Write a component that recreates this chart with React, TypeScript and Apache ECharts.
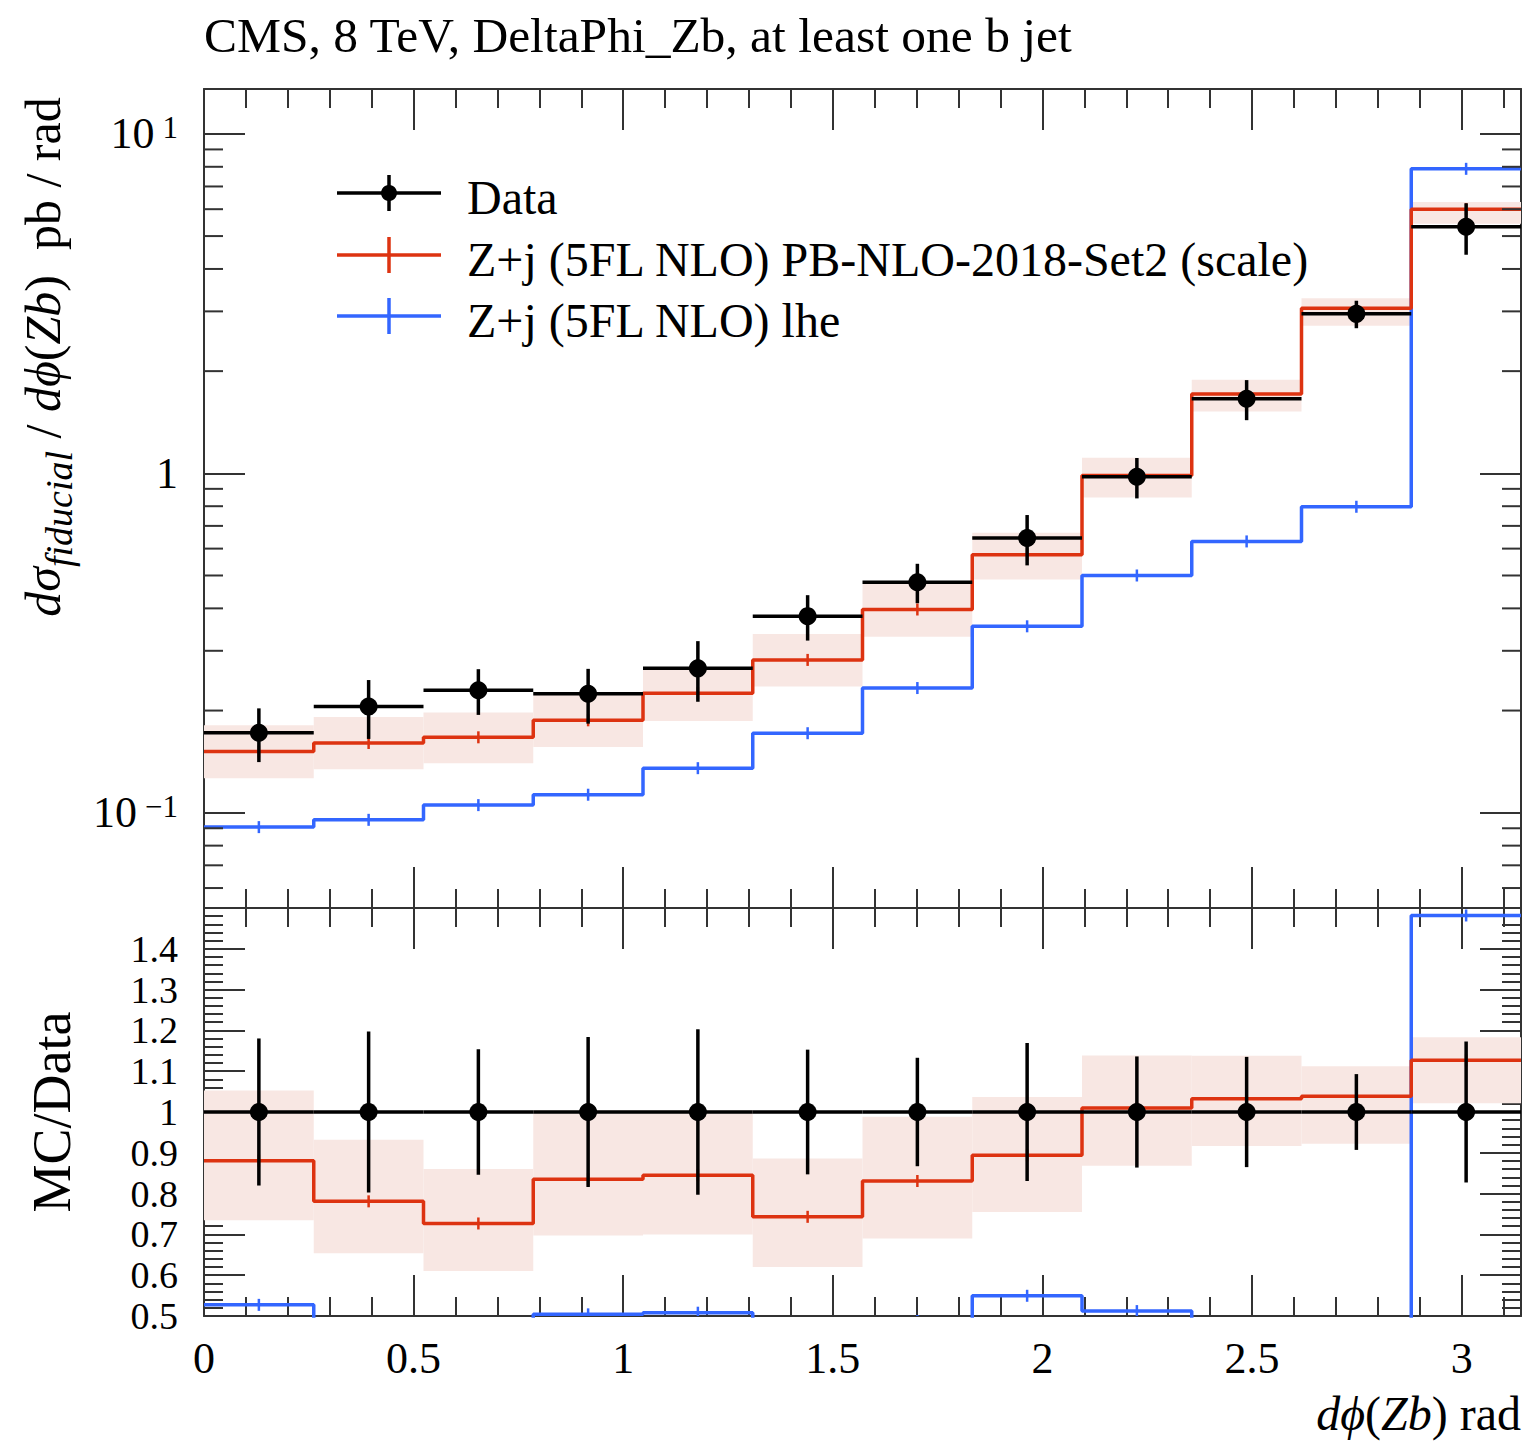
import React, { useEffect, useRef } from 'react';
import * as echarts from 'echarts';

// ---------------- data ----------------
const binEdges = [0, 0.2618, 0.5236, 0.7854, 1.0472, 1.309, 1.5708, 1.8326, 2.0944, 2.3562, 2.618, 2.8798, 3.1416];
const xMax = 3.1416;

const dataValues = [0.172, 0.2055, 0.2295, 0.2242, 0.2663, 0.3795, 0.4778, 0.6445, 0.9765, 1.658, 2.95, 5.325];
const dataErrors = [0.031, 0.0405, 0.0353, 0.0412, 0.054, 0.058, 0.0635, 0.109, 0.133, 0.224, 0.274, 0.92];

const mcValues = [0.1515, 0.1605, 0.1668, 0.1872, 0.225, 0.282, 0.397, 0.576, 0.986, 1.712, 3.063, 6.0];
const mcLow = [0.1264, 0.1344, 0.14, 0.1563, 0.1864, 0.2353, 0.3297, 0.4866, 0.848, 1.52, 2.72, 5.44];
const mcHigh = [0.1811, 0.1915, 0.1974, 0.2251, 0.2674, 0.3362, 0.4721, 0.6683, 1.112, 1.887, 3.28, 6.3];

const lheValues = [0.0907, 0.0953, 0.1053, 0.113, 0.1353, 0.1715, 0.233, 0.3542, 0.5, 0.63, 0.797, 7.89];

const topYMin = 0.0524;
const topYMax = 13.56;
const logMinorTicks = [0.06, 0.07, 0.08, 0.09, 0.2, 0.3, 0.4, 0.5, 0.6, 0.7, 0.8, 0.9, 2, 3, 4, 5, 6, 7, 8, 9];
const ratioMin = 0.5;
const ratioMax = 1.5;

const titleText = 'CMS, 8 TeV, DeltaPhi_Zb, at least one b jet';
const legendLabels = ['Data', 'Z+j (5FL NLO) PB-NLO-2018-Set2 (scale)', 'Z+j (5FL NLO) lhe'];

// ---------------- styles ----------------
const FONT = '"Liberation Serif", "DejaVu Serif", serif';
const RED = '#dd3311';
const BLUE = '#3366ff';
const BAND = '#f8e7e3';
const FRAME = '#333333';

const binLo = binEdges.slice(0, -1);
const binHi = binEdges.slice(1);

function stepPoints(values: number[]) {
  const pts: number[][] = [];
  values.forEach((v, i) => {
    pts.push([binLo[i], v]);
    pts.push([binHi[i], v]);
  });
  return pts;
}

const axisLine = { show: true, onZero: false, lineStyle: { color: FRAME, width: 2 } };
const majorTick = { show: true, inside: true, length: 41, lineStyle: { color: FRAME, width: 2 } };
const minorTick = { show: true, splitNumber: 5, length: 19, lineStyle: { color: FRAME, width: 2 } };

function xAxisDef(grid: number, position: string, labels: boolean) {
  return {
    gridIndex: grid,
    type: 'value',
    min: 0,
    max: xMax,
    interval: 0.5,
    position,
    axisLine,
    axisTick: majorTick,
    minorTick,
    splitLine: { show: false },
    minorSplitLine: { show: false },
    axisLabel: labels
      ? { show: true, fontSize: 44, fontFamily: FONT, color: '#000', margin: 20, showMinLabel: true, showMaxLabel: false }
      : { show: false },
  };
}

function renderBand(lo: number[], hi: number[], xi: number, yi: number) {
  return {
    type: 'custom',
    xAxisIndex: xi,
    yAxisIndex: yi,
    clip: true,
    silent: true,
    z: 1,
    data: lo.map((l, i) => [binLo[i], binHi[i], l, hi[i]]),
    renderItem: (params: any, api: any) => {
      const p1 = api.coord([api.value(0), api.value(3)]);
      const p2 = api.coord([api.value(1), api.value(2)]);
      return {
        type: 'rect',
        shape: { x: p1[0], y: p1[1], width: p2[0] - p1[0], height: p2[1] - p1[1] },
        style: { fill: BAND },
      };
    },
  };
}

function renderCenterTicks(values: number[], color: string, xi: number, yi: number) {
  return {
    type: 'custom',
    xAxisIndex: xi,
    yAxisIndex: yi,
    clip: true,
    silent: true,
    z: 3,
    data: values.map((v, i) => [(binLo[i] + binHi[i]) / 2, v]),
    renderItem: (params: any, api: any) => {
      const p = api.coord([api.value(0), api.value(1)]);
      return {
        type: 'line',
        shape: { x1: p[0], y1: p[1] - 6, x2: p[0], y2: p[1] + 6 },
        style: { stroke: color, lineWidth: 2.5 },
      };
    },
  };
}

function renderData(values: number[], errs: number[], xi: number, yi: number) {
  return {
    type: 'custom',
    xAxisIndex: xi,
    yAxisIndex: yi,
    clip: true,
    silent: true,
    z: 5,
    data: values.map((v, i) => [binLo[i], binHi[i], v, errs[i]]),
    renderItem: (params: any, api: any) => {
      const lo = api.value(0);
      const hi = api.value(1);
      const v = api.value(2);
      const e = api.value(3);
      const c = (lo + hi) / 2;
      const pL = api.coord([lo, v]);
      const pR = api.coord([hi, v]);
      const pC = api.coord([c, v]);
      const pU = api.coord([c, v + e]);
      const pD = api.coord([c, v - e]);
      return {
        type: 'group',
        children: [
          { type: 'line', shape: { x1: pL[0], y1: pL[1], x2: pR[0], y2: pR[1] }, style: { stroke: '#000', lineWidth: 3.5 } },
          { type: 'line', shape: { x1: pU[0], y1: pU[1], x2: pD[0], y2: pD[1] }, style: { stroke: '#000', lineWidth: 3.5 } },
          { type: 'circle', shape: { cx: pC[0], cy: pC[1], r: 9 }, style: { fill: '#000' } },
        ],
      };
    },
  };
}

function stepLine(values: number[], color: string, xi: number, yi: number, z: number) {
  return {
    type: 'line',
    xAxisIndex: xi,
    yAxisIndex: yi,
    data: stepPoints(values),
    showSymbol: false,
    symbol: 'none',
    clip: true,
    silent: true,
    z,
    lineStyle: { color, width: 3.5 },
  };
}

function logLabel(v: number) {
  const l = Math.log10(v);
  const r = Math.round(l);
  if (Math.abs(l - r) > 1e-6) return '';
  if (r === 0) return '{m|1}';
  return `{m|10}{s|${r < 0 ? '\u2212' : ''}${Math.abs(r)}}`;
}

const ratioData = dataValues.map(() => 1);
const ratioErr = dataErrors.map((e, i) => e / dataValues[i]);
const ratioMc = mcValues.map((v, i) => v / dataValues[i]);
const ratioMcLow = mcLow.map((v, i) => v / dataValues[i]);
const ratioMcHigh = mcHigh.map((v, i) => v / dataValues[i]);
const ratioLhe = lheValues.map((v, i) => v / dataValues[i]);

const legendRows = [
  { y: 193, color: '#000', dot: true },
  { y: 255, color: RED, dot: false },
  { y: 316, color: BLUE, dot: false },
];

function buildLegend() {
  const els: any[] = [];
  legendRows.forEach((row, i) => {
    els.push({ type: 'line', shape: { x1: 337, y1: row.y, x2: 441, y2: row.y }, style: { stroke: row.color, lineWidth: 3.5 }, z: 10 });
    els.push({ type: 'line', shape: { x1: 389, y1: row.y - 18, x2: 389, y2: row.y + 18 }, style: { stroke: row.color, lineWidth: 3.5 }, z: 10 });
    if (row.dot) els.push({ type: 'circle', shape: { cx: 389, cy: row.y, r: 8 }, style: { fill: '#000' }, z: 10 });
    els.push({
      type: 'text',
      x: 467,
      y: row.y + 4,
      z: 10,
      style: { text: legendLabels[i], fontFamily: FONT, fontSize: 48, fill: '#000', align: 'left', verticalAlign: 'middle' },
    });
  });
  return els;
}

const option: any = {
  animation: false,
  backgroundColor: '#fff',
  grid: [
    { left: 204, top: 89, width: 1317, height: 819 },
    { left: 204, top: 908, width: 1317, height: 408 },
  ],
  xAxis: [
    xAxisDef(0, 'bottom', false),
    xAxisDef(0, 'top', false),
    xAxisDef(1, 'bottom', true),
    xAxisDef(1, 'top', false),
  ],
  yAxis: [
    {
      gridIndex: 0,
      type: 'log',
      min: topYMin,
      max: topYMax,
      position: 'left',
      axisLine,
      axisTick: majorTick,
      minorTick: { show: false },
      splitLine: { show: false },
      axisLabel: {
        show: true,
        margin: 26,
        showMinLabel: false,
        showMaxLabel: false,
        formatter: logLabel,
        rich: {
          m: { fontSize: 44, fontFamily: FONT, color: '#000', lineHeight: 44, padding: [8, 0, 0, 0], verticalAlign: 'bottom' },
          s: { fontSize: 31, fontFamily: FONT, color: '#000', lineHeight: 30, verticalAlign: 'top', padding: [0, 0, 0, 8] },
        },
      },
    },
    {
      gridIndex: 0,
      type: 'log',
      min: topYMin,
      max: topYMax,
      position: 'right',
      axisLine,
      axisTick: majorTick,
      minorTick: { show: false },
      splitLine: { show: false },
      axisLabel: { show: false },
    },
    {
      gridIndex: 1,
      type: 'value',
      min: ratioMin,
      max: ratioMax,
      interval: 0.1,
      position: 'left',
      axisLine,
      axisTick: majorTick,
      minorTick,
      splitLine: { show: false },
      minorSplitLine: { show: false },
      axisLabel: {
        show: true,
        margin: 26,
        fontSize: 38,
        lineHeight: 38,
        fontFamily: FONT,
        color: '#000',
        showMinLabel: true,
        showMaxLabel: false,
        formatter: (v: number) => String(+v.toFixed(1)),
      },
    },
    {
      gridIndex: 1,
      type: 'value',
      min: ratioMin,
      max: ratioMax,
      interval: 0.1,
      position: 'right',
      axisLine,
      axisTick: majorTick,
      minorTick,
      splitLine: { show: false },
      minorSplitLine: { show: false },
      axisLabel: { show: false },
    },
  ],
  series: [
    // log minor ticks on top panel
    {
      type: 'custom',
      xAxisIndex: 0,
      yAxisIndex: 0,
      silent: true,
      z: 6,
      data: logMinorTicks.map((v) => [0, v]),
      renderItem: (params: any, api: any) => {
        const v = api.value(1);
        const pL = api.coord([0, v]);
        const pR = api.coord([xMax, v]);
        return {
          type: 'group',
          children: [
            { type: 'line', shape: { x1: pL[0], y1: pL[1], x2: pL[0] + 19, y2: pL[1] }, style: { stroke: FRAME, lineWidth: 2 } },
            { type: 'line', shape: { x1: pR[0] - 19, y1: pR[1], x2: pR[0], y2: pR[1] }, style: { stroke: FRAME, lineWidth: 2 } },
          ],
        };
      },
    },
    // top panel
    renderBand(mcLow, mcHigh, 0, 0),
    stepLine(lheValues, BLUE, 0, 0, 2),
    renderCenterTicks(lheValues, BLUE, 0, 0),
    stepLine(mcValues, RED, 0, 0, 3),
    renderCenterTicks(mcValues, RED, 0, 0),
    renderData(dataValues, dataErrors, 0, 0),
    // ratio panel
    renderBand(ratioMcLow, ratioMcHigh, 2, 2),
    stepLine(ratioLhe, BLUE, 2, 2, 2),
    renderCenterTicks(ratioLhe, BLUE, 2, 2),
    stepLine(ratioMc, RED, 2, 2, 3),
    renderCenterTicks(ratioMc, RED, 2, 2),
    renderData(ratioData, ratioErr, 2, 2),
  ],
  graphic: [
    {
      type: 'text',
      x: 204,
      y: 35,
      style: { text: titleText, fontFamily: FONT, fontSize: 49.5, fill: '#000', align: 'left', verticalAlign: 'middle' },
    },
    ...buildLegend(),
    {
      type: 'text',
      x: 43,
      y: 357,
      rotation: Math.PI / 2,
      style: {
        text: '{it|d\u03c3}{sub|fiducial}{rm| / }{it|d\u03d5}{rm|(}{it|Zb}{rm|)  pb / rad}',
        align: 'center',
        verticalAlign: 'middle',
        fill: '#000',
        fontFamily: FONT,
        fontSize: 50,
        rich: {
          it: { fontFamily: FONT, fontSize: 50, fontStyle: 'italic', lineHeight: 50, verticalAlign: 'top', fill: '#000' },
          rm: { fontFamily: FONT, fontSize: 50, lineHeight: 50, verticalAlign: 'top', fill: '#000' },
          sub: { fontFamily: FONT, fontSize: 38, fontStyle: 'italic', lineHeight: 38, verticalAlign: 'top', padding: [22, 0, 0, 0], fill: '#000' },
        },
      },
    },
    {
      type: 'text',
      x: 52,
      y: 1112,
      rotation: Math.PI / 2,
      style: { text: 'MC/Data', fontFamily: FONT, fontSize: 54, fill: '#000', align: 'center', verticalAlign: 'middle' },
    },
    {
      type: 'text',
      x: 1521,
      y: 1413,
      style: {
        text: '{it|d\u03d5}{rm|(}{it|Zb}{rm|) rad}',
        align: 'right',
        verticalAlign: 'middle',
        fill: '#000',
        fontFamily: FONT,
        fontSize: 48,
        rich: {
          it: { fontFamily: FONT, fontSize: 48, fontStyle: 'italic', lineHeight: 44, fill: '#000' },
          rm: { fontFamily: FONT, fontSize: 48, lineHeight: 44, fill: '#000' },
        },
      },
    },
  ],
};

export default function App() {
  const ref = useRef<HTMLDivElement>(null);
  useEffect(() => {
    if (!ref.current) return;
    const chart = echarts.init(ref.current, undefined, { renderer: 'svg' });
    chart.setOption(option);
    return () => chart.dispose();
  }, []);
  return (
    <div
      ref={ref}
      style={{ position: 'absolute', left: 0, top: 0, width: 1525, height: 1441, background: '#fff' }}
    />
  );
}
